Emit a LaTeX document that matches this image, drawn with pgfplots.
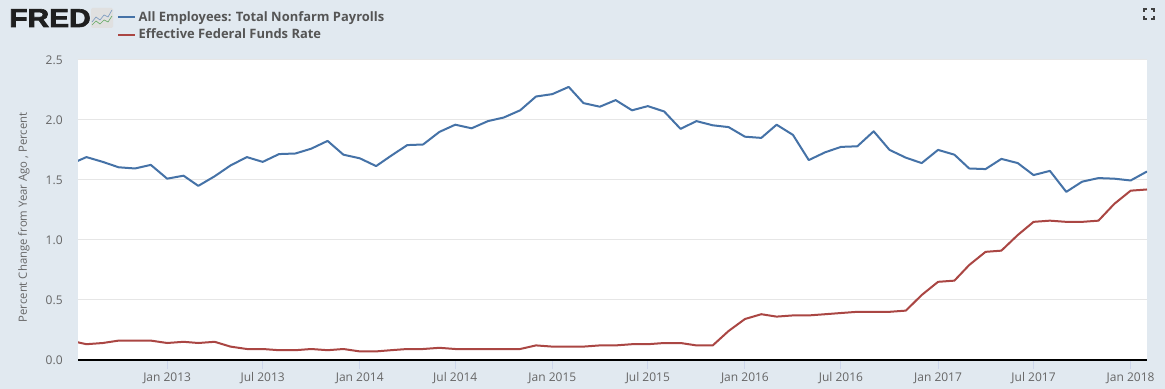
\documentclass[border=0pt]{standalone}
\usepackage{pgfplots}
\pgfplotsset{compat=1.18}
\usepackage{pgfplotstable}
\usepackage{fontspec}
\setmainfont{Open Sans}
\newfontfamily\logofont[BoldFeatures={FakeBold=2.5}]{Liberation Sans}
\definecolor{bgc}{HTML}{E1E9F0}
\definecolor{blueL}{HTML}{4572A7}
\definecolor{redL}{HTML}{AA4643}
\definecolor{txt}{HTML}{666666}
\definecolor{legtxt}{HTML}{555555}
\definecolor{gridc}{HTML}{E6E6E6}
\definecolor{tickc}{HTML}{CCD6EB}
\pgfplotstableread{
d payems
-184 1.63
-153 1.69
-122 1.65
-92 1.605
-61 1.595
-31 1.625
0 1.51
31 1.535
59 1.45
90 1.53
120 1.62
151 1.69
181 1.65
212 1.715
243 1.72
273 1.76
304 1.825
334 1.71
365 1.68
396 1.615
424 1.70
455 1.79
485 1.795
516 1.90
546 1.96
577 1.93
608 1.99
638 2.02
669 2.08
699 2.195
730 2.215
761 2.275
789 2.14
820 2.11
850 2.165
881 2.08
911 2.115
942 2.07
973 1.925
1003 1.99
1034 1.955
1064 1.94
1095 1.86
1126 1.85
1155 1.96
1186 1.875
1216 1.665
1247 1.73
1277 1.775
1308 1.78
1339 1.905
1369 1.75
1400 1.685
1430 1.64
1461 1.75
1492 1.71
1520 1.595
1551 1.59
1581 1.675
1612 1.64
1642 1.54
1673 1.575
1704 1.40
1734 1.485
1765 1.515
1795 1.51
1826 1.495
1857 1.57
}\payems
\pgfplotstableread{
d ffr
-184 0.16
-153 0.13
-122 0.14
-92 0.16
-61 0.16
-31 0.16
0 0.14
31 0.15
59 0.14
90 0.15
120 0.11
151 0.09
181 0.09
212 0.08
243 0.08
273 0.09
304 0.08
334 0.09
365 0.07
396 0.07
424 0.08
455 0.09
485 0.09
516 0.10
546 0.09
577 0.09
608 0.09
638 0.09
669 0.09
699 0.12
730 0.11
761 0.11
789 0.11
820 0.12
850 0.12
881 0.13
911 0.13
942 0.14
973 0.14
1003 0.12
1034 0.12
1064 0.24
1095 0.34
1126 0.38
1155 0.36
1186 0.37
1216 0.37
1247 0.38
1277 0.39
1308 0.40
1339 0.40
1369 0.40
1400 0.41
1430 0.54
1461 0.65
1492 0.66
1520 0.79
1551 0.90
1581 0.91
1612 1.04
1642 1.15
1673 1.16
1704 1.15
1734 1.15
1765 1.16
1795 1.30
1826 1.41
1857 1.42
}\ffr
\begin{document}
\begin{tikzpicture}[x=0.75pt,y=0.75pt]
\useasboundingbox (0,0) rectangle (1165,389);
\fill[bgc] (0,0) rectangle (1165,389);
% logo
\node[anchor=base west,inner sep=0pt,text=black!88,xscale=1.15] at (9,362) {\logofont\fontsize{19.5pt}{20pt}\selectfont\bfseries FRED};
\fill[black!12,rounded corners=1pt] (91,361) rectangle (113,381);
\draw[blueL!70!white,line width=0.5pt] (92,367) -- (96,372) -- (100,369) -- (104,374) -- (108,372) -- (112,379);
\draw[green!45!black!60,line width=0.5pt] (92,364) -- (96,368) -- (100,365) -- (104,369) -- (108,367) -- (112,373);
% expand icon
\draw[black!75,line width=0.8pt]
 (1144,377)--(1144,380)--(1147,380) (1151,380)--(1154,380)--(1154,377)
 (1144,373)--(1144,370)--(1147,370) (1151,370)--(1154,370)--(1154,373);
\begin{axis}[
  at={(58.5pt,21.9pt)},anchor=south west,
  scale only axis,width=801.75pt,height=224.9pt,
  xmin=-169,xmax=1857,ymin=0,ymax=2.5,
  axis background/.style={fill=white},
  axis x line=bottom,axis y line=left,
  x axis line style={-,black,line width=1.6pt},
  y axis line style={draw=none},
  xtick={0,181,365,546,730,911,1095,1277,1461,1642,1826},
  xticklabels={Jan 2013,Jul 2013,Jan 2014,Jul 2014,Jan 2015,Jul 2015,Jan 2016,Jul 2016,Jan 2017,Jul 2017,Jan 2018},
  ytick={0,0.5,1,1.5,2,2.5},
  yticklabel style={/pgf/number format/fixed,/pgf/number format/fixed zerofill,/pgf/number format/precision=1,/pgf/number format/assume math mode=true,text=txt,font=\fontsize{9pt}{11pt}\selectfont,xshift=-1pt},
  xticklabel style={text=txt,font=\fontsize{9pt}{11pt}\selectfont,yshift=1pt},
  ymajorgrids,grid style={gridc,line width=0.75pt},
  xtick style={tickc,line width=0.75pt},
  ytick style={draw=none},
  tick align=outside,major tick length=7pt,
  ylabel={Percent Change from Year Ago , Percent},
  every axis y label/.style={at={(axis description cs:-0.0505,0.475)},rotate=90,anchor=center,text=txt,font=\fontsize{8.5pt}{11pt}\selectfont},
  legend style={at={(axis description cs:0.0365,1.0)},anchor=south west,yshift=12.5pt,draw=none,fill=none,inner sep=0pt,outer sep=0pt,
    font=\fontsize{9.7pt}{11pt}\selectfont\bfseries,text=legtxt,row sep=0.2pt,
    cells={anchor=west}},
  legend cell align=left,
  legend image code/.code={\draw[#1,line width=1.5pt] (0,0)--(12.75pt,0);},
  every axis plot/.append style={line width=1.5pt,line join=round},
]
\addplot[blueL] table[x=d,y=payems] {\payems};
\addplot[redL] table[x=d,y=ffr] {\ffr};
\legend{All Employees: Total Nonfarm Payrolls,Effective Federal Funds Rate}
\end{axis}
\end{tikzpicture}
\end{document}
